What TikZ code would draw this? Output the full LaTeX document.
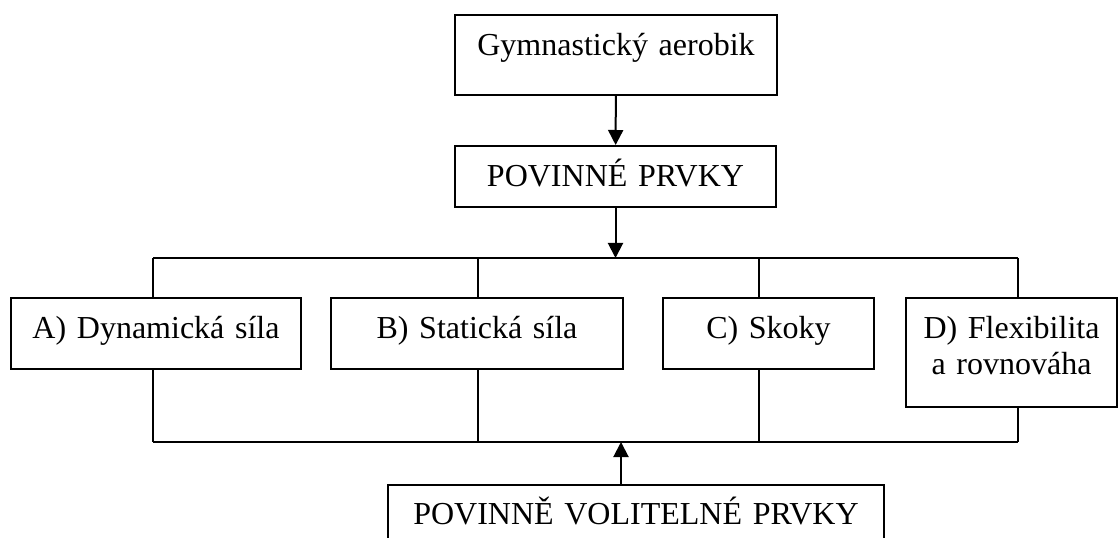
\documentclass[tikz,border=0pt]{standalone}
\usepackage{fontspec}
\setmainfont{Liberation Serif}
\usetikzlibrary{positioning}
\usetikzlibrary{arrows.meta}
\tikzset{box/.style={draw,line width=1.5pt,inner sep=0pt,anchor=north west,align=center,text height=30.75pt,text depth=22.5pt}}
\tikzset{conn/.style={line width=1.5pt}}
\tikzset{arr/.style={line width=1.5pt,-{Triangle[width=11.25pt,length=11.25pt]}}}

\begin{document}
\begin{tikzpicture}[x=0.75pt,y=-0.75pt,font=\fontsize{24}{27}\selectfont]
            \path[use as bounding box,clip] (0,0) rectangle (1118,538);

            \node (ga) [box,text width=241.5pt,text depth=29.25pt] at (454,14)   {Gymnastický aerobik};
            \node (pp) [box,text width=240.75pt,text depth=15pt]   at (454,145)  {POVINNÉ PRVKY};
            \node (a)  [box,text width=217.5pt]                    at (10,297)   {A) Dynamická síla};
            \node (b)  [box,text width=219pt]                      at (330,297)  {B) Statická síla};
            \node (c)  [box,text width=158.25pt]                   at (662,297)  {C) Skoky};
            \node (d)  [box,text width=158.25pt,text depth=51pt]   at (905,297)  {D) Flexibilita\\a rovnováha};
            \node (pvp) [box,text width=372pt,text height=29.25pt,text depth=45pt] at (387,484) {POVINNĚ VOLITELNÉ PRVKY};

            % upper and lower bus
            \coordinate (t1) at (153,258);
            \coordinate (t2) at (478,258);
            \coordinate (t3) at (759,258);
            \coordinate (t4) at (1018,258);
            \coordinate (b1) at (153,442);
            \coordinate (b2) at (478,442);
            \coordinate (b3) at (759,442);
            \coordinate (b4) at (1018,442);
            \coordinate (jn) at (621,442);

            \draw[arr] (ga) -- (pp);
            \draw[arr] (pp.south) -- (pp.south |- t1);
            \draw[conn] (t1) -- (t4);
            \draw[conn] (t1) -- (t1 |- a.north);
            \draw[conn] (t2) -- (t2 |- b.north);
            \draw[conn] (t3) -- (t3 |- c.north);
            \draw[conn] (t4) -- (t4 |- d.north);
            \draw[conn] (b1 |- a.south) -- (b1);
            \draw[conn] (b2 |- b.south) -- (b2);
            \draw[conn] (b3 |- c.south) -- (b3);
            \draw[conn] (b4 |- d.south) -- (b4);
            \draw[conn] (b1) -- (b4);
            \draw[arr] (jn |- pvp.north) -- (jn);
        \end{tikzpicture}
\end{document}
